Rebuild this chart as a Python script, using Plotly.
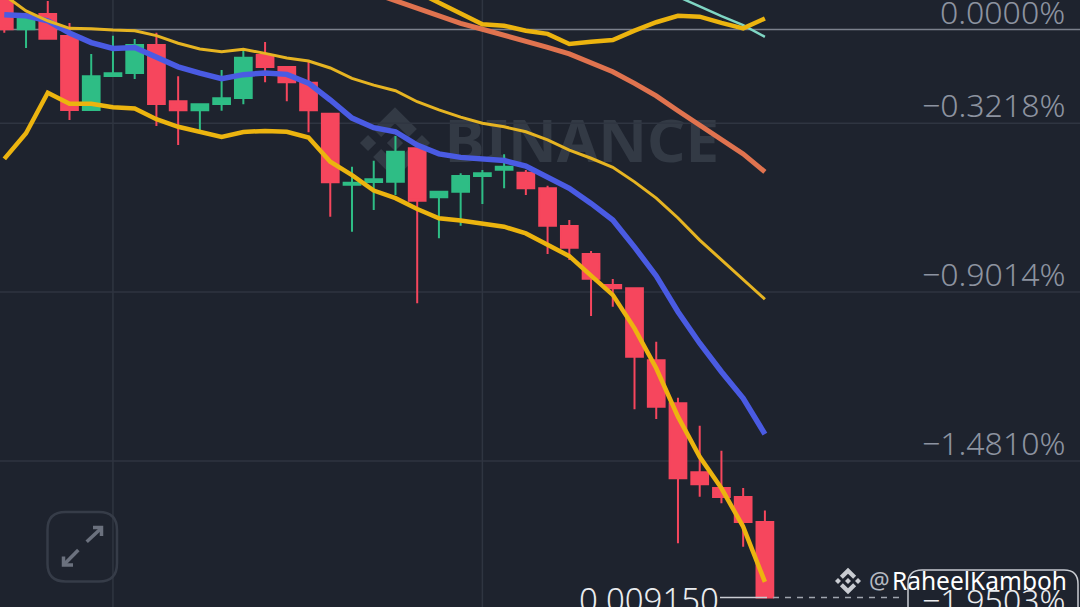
import plotly.graph_objects as go

W, H = 1080, 607
BG = "#1e232e"

index = list(range(36))
opens = [0.1356, 0.0007, 0.0532, -0.0223, -0.2764, -0.1596, -0.1493, -0.0532, -0.2465, -0.2774, -0.2558, -0.2352,
         -0.0875, -0.1287, -0.1826, -0.2891, -0.5328, -0.5235, -0.5225, -0.4078, -0.5761, -0.5568, -0.5029, -0.4813,
         -0.4916, -0.5452, -0.6746, -0.7707, -0.8771, -0.8885, -1.1356, -1.2833, -1.5201, -1.5740, -1.6049, -1.6908]
highs = [0.1528, 0.0532, 0.0978, 0.0223, -0.0841, -0.0213, -0.0326, -0.0110, -0.1607, -0.2568, -0.1390, -0.0728,
         -0.0429, -0.1287, -0.1116, -0.2891, -0.4710, -0.4504, -0.3656, -0.4078, -0.5568, -0.4937, -0.4823, -0.4284,
         -0.4823, -0.5362, -0.6540, -0.7604, -0.8565, -0.8885, -1.0718, -1.2640, -1.3602, -1.4460, -1.5740, -1.6510]
lows = [-0.0110, -0.0635, -0.0316, -0.3107, -0.2764, -0.1596, -0.1699, -0.3313, -0.3965, -0.3450, -0.2788, -0.2568,
        -0.1813, -0.2465, -0.3529, -0.6427, -0.6942, -0.6197, -0.5682, -0.9400, -0.7168, -0.6736, -0.5991, -0.5452,
        -0.5682, -0.7707, -0.7913, -0.9836, -0.9516, -1.3039, -1.3372, -1.7639, -1.6039, -1.6266, -1.7756, -1.9503]
closes = [0.0007, 0.0429, -0.0316, -0.2764, -0.1607, -0.1504, -0.0532, -0.2558, -0.2774, -0.2568, -0.2362, -0.0968,
          -0.1287, -0.1813, -0.2774, -0.5246, -0.5259, -0.5143, -0.4195, -0.5877, -0.5568, -0.5029, -0.4937, -0.4710,
          -0.5452, -0.6736, -0.7491, -0.8555, -0.8885, -1.1233, -1.2949, -1.5407, -1.5613, -1.6049, -1.6908, -1.9503]

ma_blue = [0.051, 0.047, 0.030, -0.012, -0.045, -0.065, -0.062, -0.093, -0.128, -0.150, -0.169, -0.155,
           -0.149, -0.154, -0.184, -0.242, -0.304, -0.337, -0.351, -0.397, -0.427, -0.439, -0.446, -0.450,
           -0.469, -0.505, -0.545, -0.597, -0.654, -0.747, -0.846, -0.969, -1.077, -1.175, -1.266, -1.389]
band_upper = [0.118, 0.064, 0.030, 0.004, 0.003, -0.002, -0.004, -0.021, -0.047, -0.067, -0.076, -0.068,
              -0.082, -0.098, -0.108, -0.132, -0.168, -0.191, -0.210, -0.248, -0.276, -0.301, -0.322, -0.334,
              -0.351, -0.379, -0.414, -0.442, -0.473, -0.523, -0.579, -0.647, -0.723, -0.791, -0.860, -0.926]
band_lower = [-0.444, -0.356, -0.217, -0.255, -0.255, -0.267, -0.271, -0.308, -0.334, -0.351, -0.369, -0.352,
              -0.348, -0.351, -0.371, -0.454, -0.500, -0.553, -0.579, -0.616, -0.648, -0.656, -0.665, -0.677,
              -0.700, -0.740, -0.778, -0.845, -0.911, -1.026, -1.163, -1.329, -1.467, -1.575, -1.707, -1.896]
orange_index = list(range(17, 36))
ma_orange = [0.125, 0.098, 0.074, 0.044, 0.021, 0.001, -0.019, -0.038, -0.061, -0.084, -0.116, -0.145,
             -0.185, -0.228, -0.279, -0.329, -0.377, -0.427, -0.489]
yellow_index = list(range(19, 36))
ma_yellow = [0.129, 0.091, 0.053, 0.018, 0.013, -0.004, -0.015, -0.050, -0.042, -0.036, -0.004, 0.025,
             0.047, 0.044, 0.023, 0.004, 0.038]
teal_index = list(range(30, 36))
ma_teal = [0.146, 0.112, 0.079, 0.046, 0.015, -0.025]

grid_x = [5, 22]
grid_y = [-0.3218, -0.9014, -1.4810]
zero_level = 0.0
last_pct = -1.9503
tick_labels = ["0.0000%", "\u22120.3218%", "\u22120.9014%", "\u22121.4810%"]
tick_values = [0.0, -0.3218, -0.9014, -1.4810]
last_label = "\u22121.9503%"
last_price = "0.009150"


def px(x):
    return x / W


def py(y):
    return 1 - y / H


def poly(points):
    return "M" + " L".join(f"{px(x):.5f},{py(y):.5f}" for x, y in points) + " Z"


def rounded(x0, y0, x1, y1, r):
    return (f"M{px(x0+r):.5f},{py(y0):.5f} L{px(x1-r):.5f},{py(y0):.5f} Q{px(x1):.5f},{py(y0):.5f} {px(x1):.5f},{py(y0+r):.5f} "
            f"L{px(x1):.5f},{py(y1-r):.5f} Q{px(x1):.5f},{py(y1):.5f} {px(x1-r):.5f},{py(y1):.5f} "
            f"L{px(x0+r):.5f},{py(y1):.5f} Q{px(x0):.5f},{py(y1):.5f} {px(x0):.5f},{py(y1-r):.5f} "
            f"L{px(x0):.5f},{py(y0+r):.5f} Q{px(x0):.5f},{py(y0):.5f} {px(x0+r):.5f},{py(y0):.5f} Z")


def logo_shapes(cx, cy, s, color, layer):
    top = [(-0.395, 0.169), (0, 0.564), (0.395, 0.169), (0.625, 0.399), (0, 1.023), (-0.625, 0.399)]
    parts = [
        [(cx + a * s, cy - b * s) for a, b in top],
        [(cx + a * s, cy + b * s) for a, b in top],
    ]
    for c in (-0.77, 0, 0.77):
        hd = 0.232
        parts.append([(cx + (c - hd) * s, cy), (cx + c * s, cy - hd * s), (cx + (c + hd) * s, cy), (cx + c * s, cy + hd * s)])
    return [dict(type="path", xref="paper", yref="paper", path=poly(p), fillcolor=color,
                 line=dict(width=0), layer=layer) for p in parts]


def pline(pts, color, width):
    return dict(type="path", xref="paper", yref="paper",
                path="M" + " L".join(f"{px(x):.5f},{py(y):.5f}" for x, y in pts),
                line=dict(color=color, width=width), layer="above")


fig = go.Figure()
fig.add_trace(go.Candlestick(
    x=index, open=opens, high=highs, low=lows, close=closes,
    increasing=dict(line=dict(color="#2ebd85", width=2), fillcolor="#2ebd85"),
    decreasing=dict(line=dict(color="#f6465d", width=2), fillcolor="#f6465d"),
    whiskerwidth=0, showlegend=False, hoverinfo="skip",
))
for xs, ys, color, width in [
    (teal_index, ma_teal, "#7fd6c4", 2.5),
    (orange_index, ma_orange, "#e0734f", 5),
    (index, ma_blue, "#4a5be3", 5.5),
    (index, band_upper, "#e6b422", 3),
    (index, band_lower, "#ecb40f", 4.5),
    (yellow_index, ma_yellow, "#ecb40f", 4.5),
]:
    fig.add_trace(go.Scatter(x=xs, y=ys, mode="lines", line=dict(color=color, width=width),
                             showlegend=False, hoverinfo="skip"))

shapes = []
shapes += logo_shapes(395, 143, 35, "#333a45", "below")
shapes.append(dict(type="rect", xref="paper", yref="paper", x0=px(430), x1=px(734), y0=py(175), y1=py(111),
                   line=dict(width=0), fillcolor="rgba(0,0,0,0)", layer="below",
                   label=dict(text="<b>BINANCE</b>", textposition="middle center",
                              font=dict(family="Noto Sans", size=60, color="#333a45"))))
for v in grid_y:
    shapes.append(dict(type="line", xref="paper", yref="y", x0=0, x1=1, y0=v, y1=v,
                       line=dict(color="#2f3541", width=1.5), layer="below"))
for v in grid_x:
    shapes.append(dict(type="line", xref="x", yref="paper", x0=v, x1=v, y0=0, y1=1,
                       line=dict(color="#2f3541", width=1.5), layer="below"))
shapes.append(dict(type="line", xref="paper", yref="y", x0=0, x1=1, y0=zero_level, y1=zero_level,
                   line=dict(color="#7b808c", width=1.5), layer="below"))
# last price marker
shapes.append(dict(type="line", xref="paper", yref="y", x0=px(720), x1=px(767), y0=last_pct, y1=last_pct,
                   line=dict(color="#c9ccd2", width=1.5), layer="above"))
shapes.append(dict(type="line", xref="paper", yref="y", x0=px(773), x1=px(905), y0=last_pct, y1=last_pct,
                   line=dict(color="#a0a5ae", width=1.5, dash="6px,6px"), layer="above"))
shapes.append(dict(type="path", xref="paper", yref="paper", path=rounded(908, 570, 1078, 640, 14),
                   line=dict(color="#c9ccd2", width=1.5), fillcolor=BG, layer="above"))
# expand button
shapes.append(dict(type="path", xref="paper", yref="paper", path=rounded(47.5, 512, 117, 581.5, 18),
                   line=dict(color="#363c48", width=2.5), fillcolor="rgba(0,0,0,0)", layer="above"))
shapes.append(pline([(86.7, 541.7), (101.5, 528)], "#6b717e", 3.5))
shapes.append(pline([(93, 527.5), (101.5, 527.5), (101.5, 536)], "#6b717e", 3.5))
shapes.append(pline([(78.3, 550), (63.5, 565)], "#6b717e", 3.5))
shapes.append(pline([(63.5, 556.5), (63.5, 565), (73, 565)], "#6b717e", 3.5))
shapes += logo_shapes(848, 581, 13, "#c9ccd2", "above")

annotations = []
for val, txt in zip(tick_values, tick_labels):
    annotations.append(dict(xref="paper", yref="y", x=px(1067), y=val, text=txt, showarrow=False,
                            xanchor="right", yanchor="bottom", yshift=-5,
                            font=dict(family="Noto Sans", size=32, weight=300, color="#8d93a0")))
annotations.append(dict(xref="paper", yref="y", x=px(1067), y=last_pct, text=last_label, showarrow=False,
                        xanchor="right", yanchor="middle", yshift=-2,
                        font=dict(family="Noto Sans", size=32, weight=300, color="#eaecef")))
annotations.append(dict(xref="paper", yref="y", x=px(721), y=last_pct, text=last_price, showarrow=False,
                        xanchor="right", yanchor="middle", yshift=-2,
                        font=dict(family="Noto Sans", size=33, weight=300, color="#eaecef")))
annotations.append(dict(xref="paper", yref="paper", x=px(867), y=py(580), showarrow=False, xanchor="left",
                        yanchor="middle", text="@",
                        font=dict(family="Noto Sans", size=23, color="#b5b9c1")))
annotations.append(dict(xref="paper", yref="paper", x=px(890), y=py(580), showarrow=False, xanchor="left",
                        yanchor="middle", text="RaheelKamboh",
                        font=dict(family="Noto Sans", size=24.5, color="#ffffff")))

fig.update_layout(
    width=W, height=H, margin=dict(l=0, r=0, t=0, b=0),
    paper_bgcolor=BG, plot_bgcolor=BG, boxgap=0.23, boxgroupgap=0,
    showlegend=False, dragmode=False, shapes=shapes, annotations=annotations,
    xaxis=dict(range=[-0.198, 49.5], showgrid=False, zeroline=False, showticklabels=False, ticks="",
               rangeslider=dict(visible=False), fixedrange=True),
    yaxis=dict(range=[-1.9825, 0.1013], showgrid=False, zeroline=False, showticklabels=False, ticks="",
               fixedrange=True),
)
fig.write_html("out.html", config={"displayModeBar": False},
               post_script="document.body.style.margin='0';")
